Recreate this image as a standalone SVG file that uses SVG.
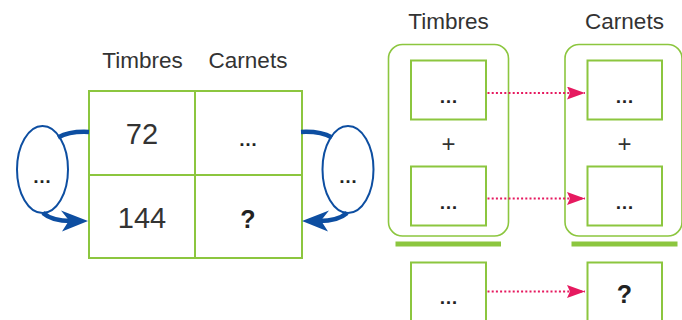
<svg xmlns="http://www.w3.org/2000/svg" width="682" height="320" viewBox="0 0 682 320">
<defs>
<style>
.hdr{font-family:"Liberation Sans",Arial,sans-serif;font-size:22.5px;fill:#333;text-anchor:middle}
.num{font-family:"Liberation Sans",Arial,sans-serif;font-size:29px;fill:#333;text-anchor:middle}
.dots{font-family:"Liberation Sans",Arial,sans-serif;font-size:19px;font-weight:bold;fill:#222;text-anchor:middle}
.q{font-family:"Liberation Sans",Arial,sans-serif;font-size:25px;font-weight:bold;fill:#222;text-anchor:middle}
.plus{font-family:"Liberation Sans",Arial,sans-serif;font-size:24px;fill:#333;text-anchor:middle}
.cell{fill:#fff;stroke:#8cc63f;stroke-width:2}
.grp{fill:none;stroke:#8cc63f;stroke-width:1.6}
.bar{fill:#8cc63f}
.ell{fill:#fff;stroke:#0d4ea1;stroke-width:2}
.barc{fill:none;stroke:#0d4ea1;stroke-width:4.5;stroke-linecap:butt}
.bhead{fill:#0d4ea1}
.pink{fill:none;stroke:#e6195f;stroke-width:2;stroke-dasharray:2 2.2}
</style>
<marker id="ph" markerUnits="userSpaceOnUse" markerWidth="19" markerHeight="14" refX="18" refY="6.5" orient="auto">
<path d="M0,0 L18,6.5 L0,13 L3,6.5 Z" fill="#e6195f"/>
</marker>
</defs>

<g id="table">
<rect class="cell" x="89" y="91" width="106" height="84"/>
<rect class="cell" x="195" y="91" width="107" height="84"/>
<rect class="cell" x="89" y="175" width="106" height="83"/>
<rect class="cell" x="195" y="175" width="107" height="83"/>
<text class="hdr" x="142.5" y="68">Timbres</text>
<text class="hdr" x="248" y="68">Carnets</text>
<text class="num" x="142" y="144">72</text>
<text class="num" x="142" y="228">144</text>
<text class="dots" x="248" y="146">…</text>
<text class="q" x="248" y="227.5">?</text>
</g>

<g id="ellipse-left">
<ellipse class="ell" cx="42.5" cy="169.5" rx="25.5" ry="43.5"/>
<text class="dots" x="42" y="183">…</text>
</g>

<g id="ellipse-right">
<ellipse class="ell" cx="348" cy="169.5" rx="25.5" ry="43.5"/>
<text class="dots" x="348" y="183">…</text>
</g>

<g id="header-right">
<text class="hdr" x="448.5" y="28.5">Timbres</text>
<text class="hdr" x="624.5" y="28.5">Carnets</text>
</g>

<g id="group-timbres">
<rect class="grp" x="388.5" y="44.5" width="120" height="191.5" rx="14"/>
</g>
<g id="group-carnets">
<rect class="grp" x="565" y="44.5" width="117" height="191.5" rx="14"/>
</g>

<g id="box-t1"><rect class="cell" x="411" y="60.5" width="75" height="59" stroke-width="1.6"/><text class="dots" x="448.5" y="103">…</text></g>
<g id="plus-t"><text class="plus" x="448.5" y="151.5">+</text></g>
<g id="box-t2"><rect class="cell" x="411" y="166.5" width="75" height="59" stroke-width="1.6"/><text class="dots" x="448.5" y="208.5">…</text></g>
<g id="bar-t"><rect class="bar" x="395.5" y="241.5" width="105.5" height="5"/></g>
<g id="box-t3"><rect class="cell" x="411" y="262.5" width="75" height="60" stroke-width="1.6"/><text class="dots" x="448.5" y="304">…</text></g>

<g id="box-c1"><rect class="cell" x="587.5" y="60.5" width="74.5" height="59" stroke-width="1.6"/><text class="dots" x="624.5" y="103">…</text></g>
<g id="plus-c"><text class="plus" x="624.5" y="151.5">+</text></g>
<g id="box-c2"><rect class="cell" x="587.5" y="166.5" width="74.5" height="59" stroke-width="1.6"/><text class="dots" x="624.5" y="208.5">…</text></g>
<g id="bar-c"><rect class="bar" x="571.5" y="241.5" width="106" height="5"/></g>
<g id="box-c3"><rect class="cell" x="587.5" y="262.5" width="74.5" height="60" stroke-width="1.6"/><text class="q" x="624.5" y="303">?</text></g>

<g id="connectors">
<path class="barc" d="M89,132 Q70,131 58,137.5"/>
<path class="barc" d="M43,213 Q52,221 71,221"/>
<path class="bhead" d="M88,221 L61,210.5 L69,220.5 L62,231.5 Z"/>
<path class="barc" d="M301,132 Q320,131 332,137.5"/>
<path class="barc" d="M347,213 Q338,221 319,221"/>
<path class="bhead" d="M302,221 L329,210.5 L321,220.5 L328,231.5 Z"/>
<line class="pink" x1="487.5" y1="93" x2="585" y2="93" marker-end="url(#ph)"/>
<line class="pink" x1="487.5" y1="198.5" x2="585" y2="198.5" marker-end="url(#ph)"/>
<line class="pink" x1="487.5" y1="291.5" x2="585" y2="291.5" marker-end="url(#ph)"/>
</g>
</svg>
